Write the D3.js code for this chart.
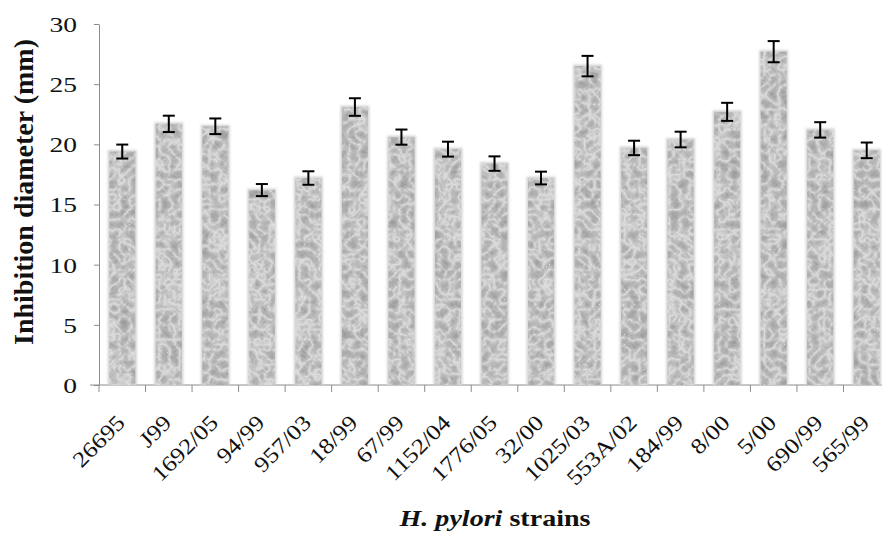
<!DOCTYPE html>
<html>
<head>
<meta charset="utf-8">
<script src="https://cdn.jsdelivr.net/npm/d3@7"></script>
<style>
  body { margin: 0; background: #fff; }
  svg { display: block; font-family: "Liberation Serif", "Times New Roman", serif; }
</style>
</head>
<body>
<div id="chart"></div>
<script>
// H. pylori strains and their inhibition zone diameters (mm)
var strains = ['26695', 'J99', '1692/05', '94/99', '957/03', '18/99', '67/99', '1152/04', '1776/05',
    '32/00', '1025/03', '553A/02', '184/99', '8/00', '5/00', '690/99', '565/99'];
var means = [19.4, 21.7, 21.5, 16.2, 17.2, 23.1, 20.6, 19.6, 18.4, 17.2, 26.5, 19.7, 20.4, 22.7, 27.7, 21.2, 19.5];
var errors = [0.58, 0.68, 0.65, 0.5, 0.56, 0.73, 0.63, 0.62, 0.6, 0.53, 0.85, 0.6, 0.65, 0.75, 0.88, 0.64, 0.65];
var yTicks = [0, 5, 10, 15, 20, 25, 30];

var width = 882, height = 533;
var margin = { left: 99, top: 24, bottom: 385, right: 890 };

var svg = d3.select('#chart').append('svg')
    .attr('width', width)
    .attr('height', height);

var defs = svg.append('defs');
var granite = defs.append('filter')
    .attr('id', 'granite')
    .attr('x', 0).attr('y', 0).attr('width', 1).attr('height', 1);
granite.append('feTurbulence')
    .attr('type', 'turbulence')
    .attr('baseFrequency', 0.1)
    .attr('numOctaves', 2)
    .attr('seed', 7)
    .attr('result', 'noise');
granite.append('feColorMatrix')
    .attr('in', 'noise')
    .attr('type', 'matrix')
    .attr('values', '1 0 0 0 0  1 0 0 0 0  1 0 0 0 0  0 0 0 0 1')
    .attr('result', 'grey');
var tr = granite.append('feComponentTransfer').attr('in', 'grey').attr('result', 'tone');
['feFuncR', 'feFuncG', 'feFuncB'].forEach(function (f) {
    tr.append(f).attr('type', 'table').attr('tableValues', '0.74 0.56 0.45 0.38 0.33 0.3');
});
granite.append('feGaussianBlur').attr('in', 'tone').attr('stdDeviation', 0.7).attr('result', 'soft');
granite.append('feComposite').attr('in', 'soft').attr('in2', 'SourceGraphic').attr('operator', 'in');

defs.append('filter').attr('id', 'halo')
    .attr('x', -0.3).attr('y', -0.1).attr('width', 1.6).attr('height', 1.2)
    .append('feGaussianBlur').attr('stdDeviation', 1.2);

var x = d3.scaleBand()
    .domain(strains)
    .range([margin.left, margin.right])
    .paddingInner(0.44)
    .paddingOuter(0.22);
var y = d3.scaleLinear()
    .domain([0, 30])
    .range([margin.bottom, margin.top]);

var axisColor = '#8c8c8c';

// y axis
var yAxis = d3.axisLeft(y).tickValues(yTicks).tickSize(5).tickSizeOuter(0);
var gy = svg.append('g')
    .attr('transform', 'translate(' + margin.left + ',0)')
    .call(yAxis);
gy.select('.domain').attr('stroke', axisColor);
gy.selectAll('.tick line').attr('stroke', axisColor);
gy.selectAll('.tick text')
    .attr('x', 0)
    .attr('transform', 'translate(-22,0) scale(1.25,1)')
    .attr('font-size', 22)
    .attr('font-family', '"Liberation Serif", serif')
    .attr('fill', '#111')
    .attr('dy', '0.34em');

// x axis line and tick marks between categories
svg.append('line')
    .attr('x1', 90).attr('x2', width)
    .attr('y1', y(0)).attr('y2', y(0))
    .attr('stroke', axisColor);
svg.append('g').selectAll('line')
    .data(d3.range(strains.length + 1))
    .join('line')
    .attr('x1', function (i) { return x.range()[0] + i * x.step(); })
    .attr('x2', function (i) { return x.range()[0] + i * x.step(); })
    .attr('y1', y(0)).attr('y2', y(0) + 7)
    .attr('stroke', axisColor);

// bars
var bars = svg.append('g');
bars.selectAll('rect.halo')
    .data(strains)
    .join('rect')
    .attr('class', 'halo')
    .attr('x', function (d) { return x(d) - 1.5; })
    .attr('y', function (d, i) { return y(means[i]) - 1.5; })
    .attr('width', x.bandwidth() + 3)
    .attr('height', function (d, i) { return y(0) - y(means[i]) + 1.5; })
    .attr('fill', '#d4d4d4')
    .attr('filter', 'url(#halo)');
bars.selectAll('rect.bar')
    .data(strains)
    .join('rect')
    .attr('class', 'bar')
    .attr('x', function (d) { return x(d); })
    .attr('y', function (d, i) { return y(means[i]); })
    .attr('width', x.bandwidth())
    .attr('height', function (d, i) { return y(0) - y(means[i]); })
    .attr('fill', '#999')
    .attr('filter', 'url(#granite)');

// error bars
var eb = svg.append('g').attr('stroke', '#000').attr('stroke-width', 2);
strains.forEach(function (d, i) {
    var cx = x(d) + x.bandwidth() / 2;
    var lo = y(means[i] - errors[i]), hi = y(means[i] + errors[i]);
    eb.append('line').attr('x1', cx).attr('x2', cx).attr('y1', lo).attr('y2', hi);
    eb.append('line').attr('x1', cx - 6).attr('x2', cx + 6).attr('y1', lo).attr('y2', lo);
    eb.append('line').attr('x1', cx - 6).attr('x2', cx + 6).attr('y1', hi).attr('y2', hi);
});

// category labels
svg.append('g').selectAll('text')
    .data(strains)
    .join('text')
    .attr('transform', function (d) {
        return 'translate(' + (x(d) + x.bandwidth() / 2 + 4) + ',424) rotate(-45) scale(1.15,1)';
    })
    .attr('text-anchor', 'end')
    .attr('font-size', 22)
    .attr('fill', '#111')
    .text(function (d) { return d; });

// axis titles
svg.append('text')
    .attr('transform', 'translate(33,192) rotate(-90)')
    .attr('text-anchor', 'middle')
    .attr('font-size', 28)
    .attr('font-weight', 'bold')
    .attr('fill', '#111')
    .text('Inhibition diameter (mm)');

var xt = svg.append('text')
    .attr('transform', 'translate(495,526) scale(1.17,1)')
    .attr('text-anchor', 'middle')
    .attr('font-size', 24)
    .attr('font-weight', 'bold')
    .attr('fill', '#111');
xt.append('tspan').attr('font-style', 'italic').text('H. pylori');
xt.append('tspan').text(' strains');
</script>
</body>
</html>
